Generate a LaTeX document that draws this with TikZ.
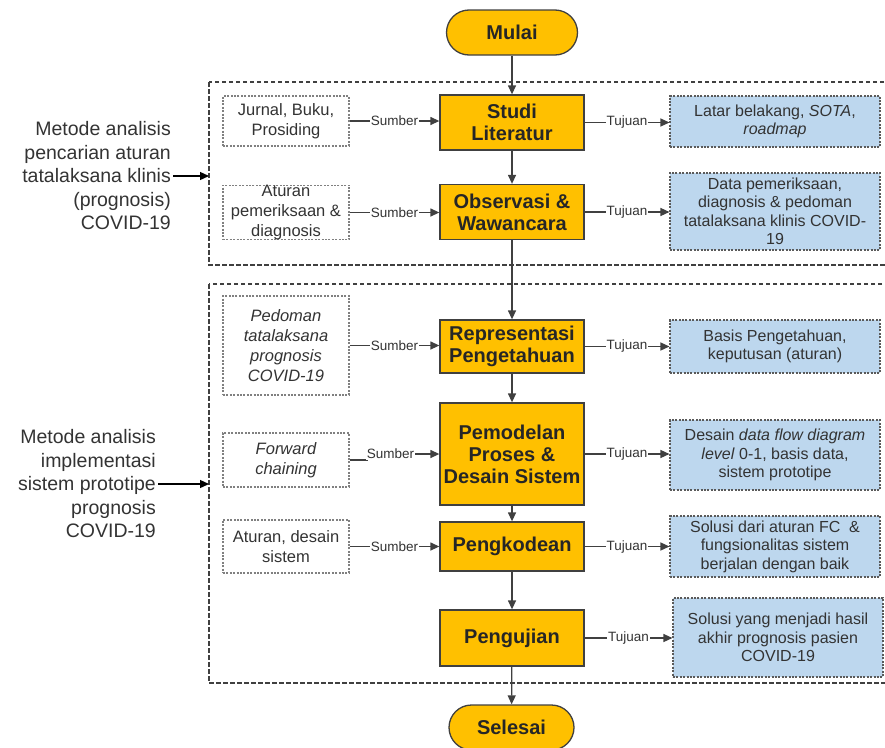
\documentclass[tikz,border=0pt]{standalone}
\usepackage{fontspec}
\setmainfont{Liberation Sans}
\usetikzlibrary{arrows.meta}
\definecolor{gold}{HTML}{FFC000}
\definecolor{boxline}{HTML}{404040}
\definecolor{bluefill}{HTML}{BDD7EE}
\definecolor{txt}{HTML}{333333}
\definecolor{dotgray}{HTML}{808080}
\definecolor{dotblue}{HTML}{5A5A5A}
\tikzset{
  proc/.style={draw=boxline, line width=1.3, fill=gold, minimum width=144, inner sep=0,
    align=center, text=black!85, font=\fontsize{20}{22}\selectfont\bfseries},
  term/.style={proc, rounded corners=22.5, minimum height=45},
  srcbox/.style={draw=dotgray, line width=1.1, dash pattern=on 2pt off 1.4pt, fill=white,
    minimum width=126, inner sep=0, align=center, text=txt, font=\fontsize{16.5}{20}\selectfont},
  tgtbox/.style={draw=dotblue, line width=1.1, dash pattern=on 2pt off 1.4pt, fill=bluefill,
    minimum width=210, inner sep=0, align=center, text=txt, font=\fontsize{16}{18.5}\selectfont},
  group/.style={draw=boxline, line width=1.6, dash pattern=on 4.5pt off 2.5pt},
  conn/.style={draw=boxline, line width=1.3, -{Triangle[length=9pt,width=8pt]}},
  lab/.style={fill=white, inner sep=1, text=txt, font=\fontsize{13.5}{14}\selectfont},
  note/.style={align=right, text=txt, inner sep=2, font=\fontsize{19.5}{23.5}\selectfont},
}
\begin{document}
\begin{tikzpicture}[x=1pt,y=-1pt]
\clip (0,0) rectangle (885,747);

% grouping frames
\draw[group] (209,82) rectangle (892,265);
\draw[group] (209,284) rectangle (892,683);

% start / end
\node[term, minimum width=131] (mulai) at (512,32.5) {Mulai};
\node[term, minimum width=125] (selesai) at (511.5,727.5) {Selesai};

% main process steps
\node[proc, minimum height=55] (p1) at (512,122.5) {Studi\\Literatur};
\node[proc, minimum height=55] (p2) at (512,212) {Observasi \&\\Wawancara};
\node[proc, minimum height=53] (p3) at (512,346.5) {Representasi\\Pengetahuan};
\node[proc, minimum height=102] (p4) at (512,454) {Pemodelan\\Proses \&\\Desain Sistem};
\node[proc, minimum height=49] (p5) at (512,546.5) {Pengkodean};
\node[proc, minimum height=56] (p6) at (512,638) {Pengujian};

% sources
\node[srcbox, minimum height=50] (s1) at (286,121) {Jurnal, Buku,\\Prosiding};
\node[srcbox, minimum height=53] (s2) at (286,212.5) {Aturan\\pemeriksaan \&\\diagnosis};
\node[srcbox, minimum height=99, font=\fontsize{16.5}{20}\selectfont\itshape] (s3) at (286,345.5) {Pedoman\\tatalaksana\\prognosis\\COVID-19};
\node[srcbox, minimum height=54, font=\fontsize{16.5}{20}\selectfont\itshape] (s4) at (286,460) {Forward\\chaining};
\node[srcbox, minimum height=53] (s5) at (286,546.5) {Aturan, desain\\sistem};

% goals
\node[tgtbox, minimum height=51] (t1) at (775,121.5) {Latar belakang, \textit{SOTA},\\\textit{roadmap}};
\node[tgtbox, minimum height=77] (t2) at (775,211.5) {Data pemeriksaan,\\diagnosis \& pedoman\\tatalaksana klinis COVID-\\19};
\node[tgtbox, minimum height=53] (t3) at (775,346.5) {Basis Pengetahuan,\\keputusan (aturan)};
\node[tgtbox, minimum height=70] (t4) at (775,455) {Desain \textit{data flow diagram}\\\textit{level} 0-1, basis data,\\sistem prototipe};
\node[tgtbox, minimum height=61] (t5) at (775,546.5) {Solusi dari aturan FC\ \ \&\\fungsionalitas sistem\\berjalan dengan baik};
\node[tgtbox, minimum height=79] (t6) at (778,637.5) {Solusi yang menjadi hasil\\akhir prognosis pasien\\COVID-19};

% side notes
\node[note, anchor=east] (n1) at (173,176) {Metode analisis\\pencarian aturan\\tatalaksana klinis\\(prognosis)\\COVID-19};
\node[note, anchor=east] (n2) at (158,484) {Metode analisis\\implementasi\\sistem prototipe\\prognosis\\COVID-19};
\coordinate (g1) at (209,176);
\coordinate (g2) at (209,484);
\draw[conn, draw=black] (n1.east) -- (g1);
\draw[conn, draw=black] (n2.east) -- (g2);

% main flow
\draw[conn] (mulai) -- (p1);
\draw[conn] (p1) -- (p2);
\draw[conn] (p2) -- (p3);
\draw[conn] (p3) -- (p4);
\draw[conn] (p4) -- (p5);
\draw[conn] (p5) -- (p6);
\draw[conn] (p6) -- (selesai);

% sources into steps
\draw[conn] (s1.east) -- node[lab]{Sumber} (s1.east -| p1.west);
\draw[conn] (s2.east) -- node[lab]{Sumber} (s2.east -| p2.west);
\draw[conn] (s3.east) -- node[lab]{Sumber} (s3.east -| p3.west);
\draw[conn] (s4.east) -- ([xshift=18pt]s4.east) |- node[lab, pos=0.66]{Sumber} (p4.west);
\draw[conn] (s5.east) -- node[lab]{Sumber} (s5.east -| p5.west);

% steps to goals
\draw[conn] (p1.east) -- node[lab]{Tujuan} (p1.east -| t1.west);
\draw[conn] (p2.east) -- node[lab]{Tujuan} (p2.east -| t2.west);
\draw[conn] (p3.east) -- node[lab]{Tujuan} (p3.east -| t3.west);
\draw[conn] (p4.east) -- node[lab]{Tujuan} (p4.east -| t4.west);
\draw[conn] (p5.east) -- node[lab]{Tujuan} (p5.east -| t5.west);
\draw[conn] (p6.east) -- node[lab]{Tujuan} (p6.east -| t6.west);
\end{tikzpicture}
\end{document}
